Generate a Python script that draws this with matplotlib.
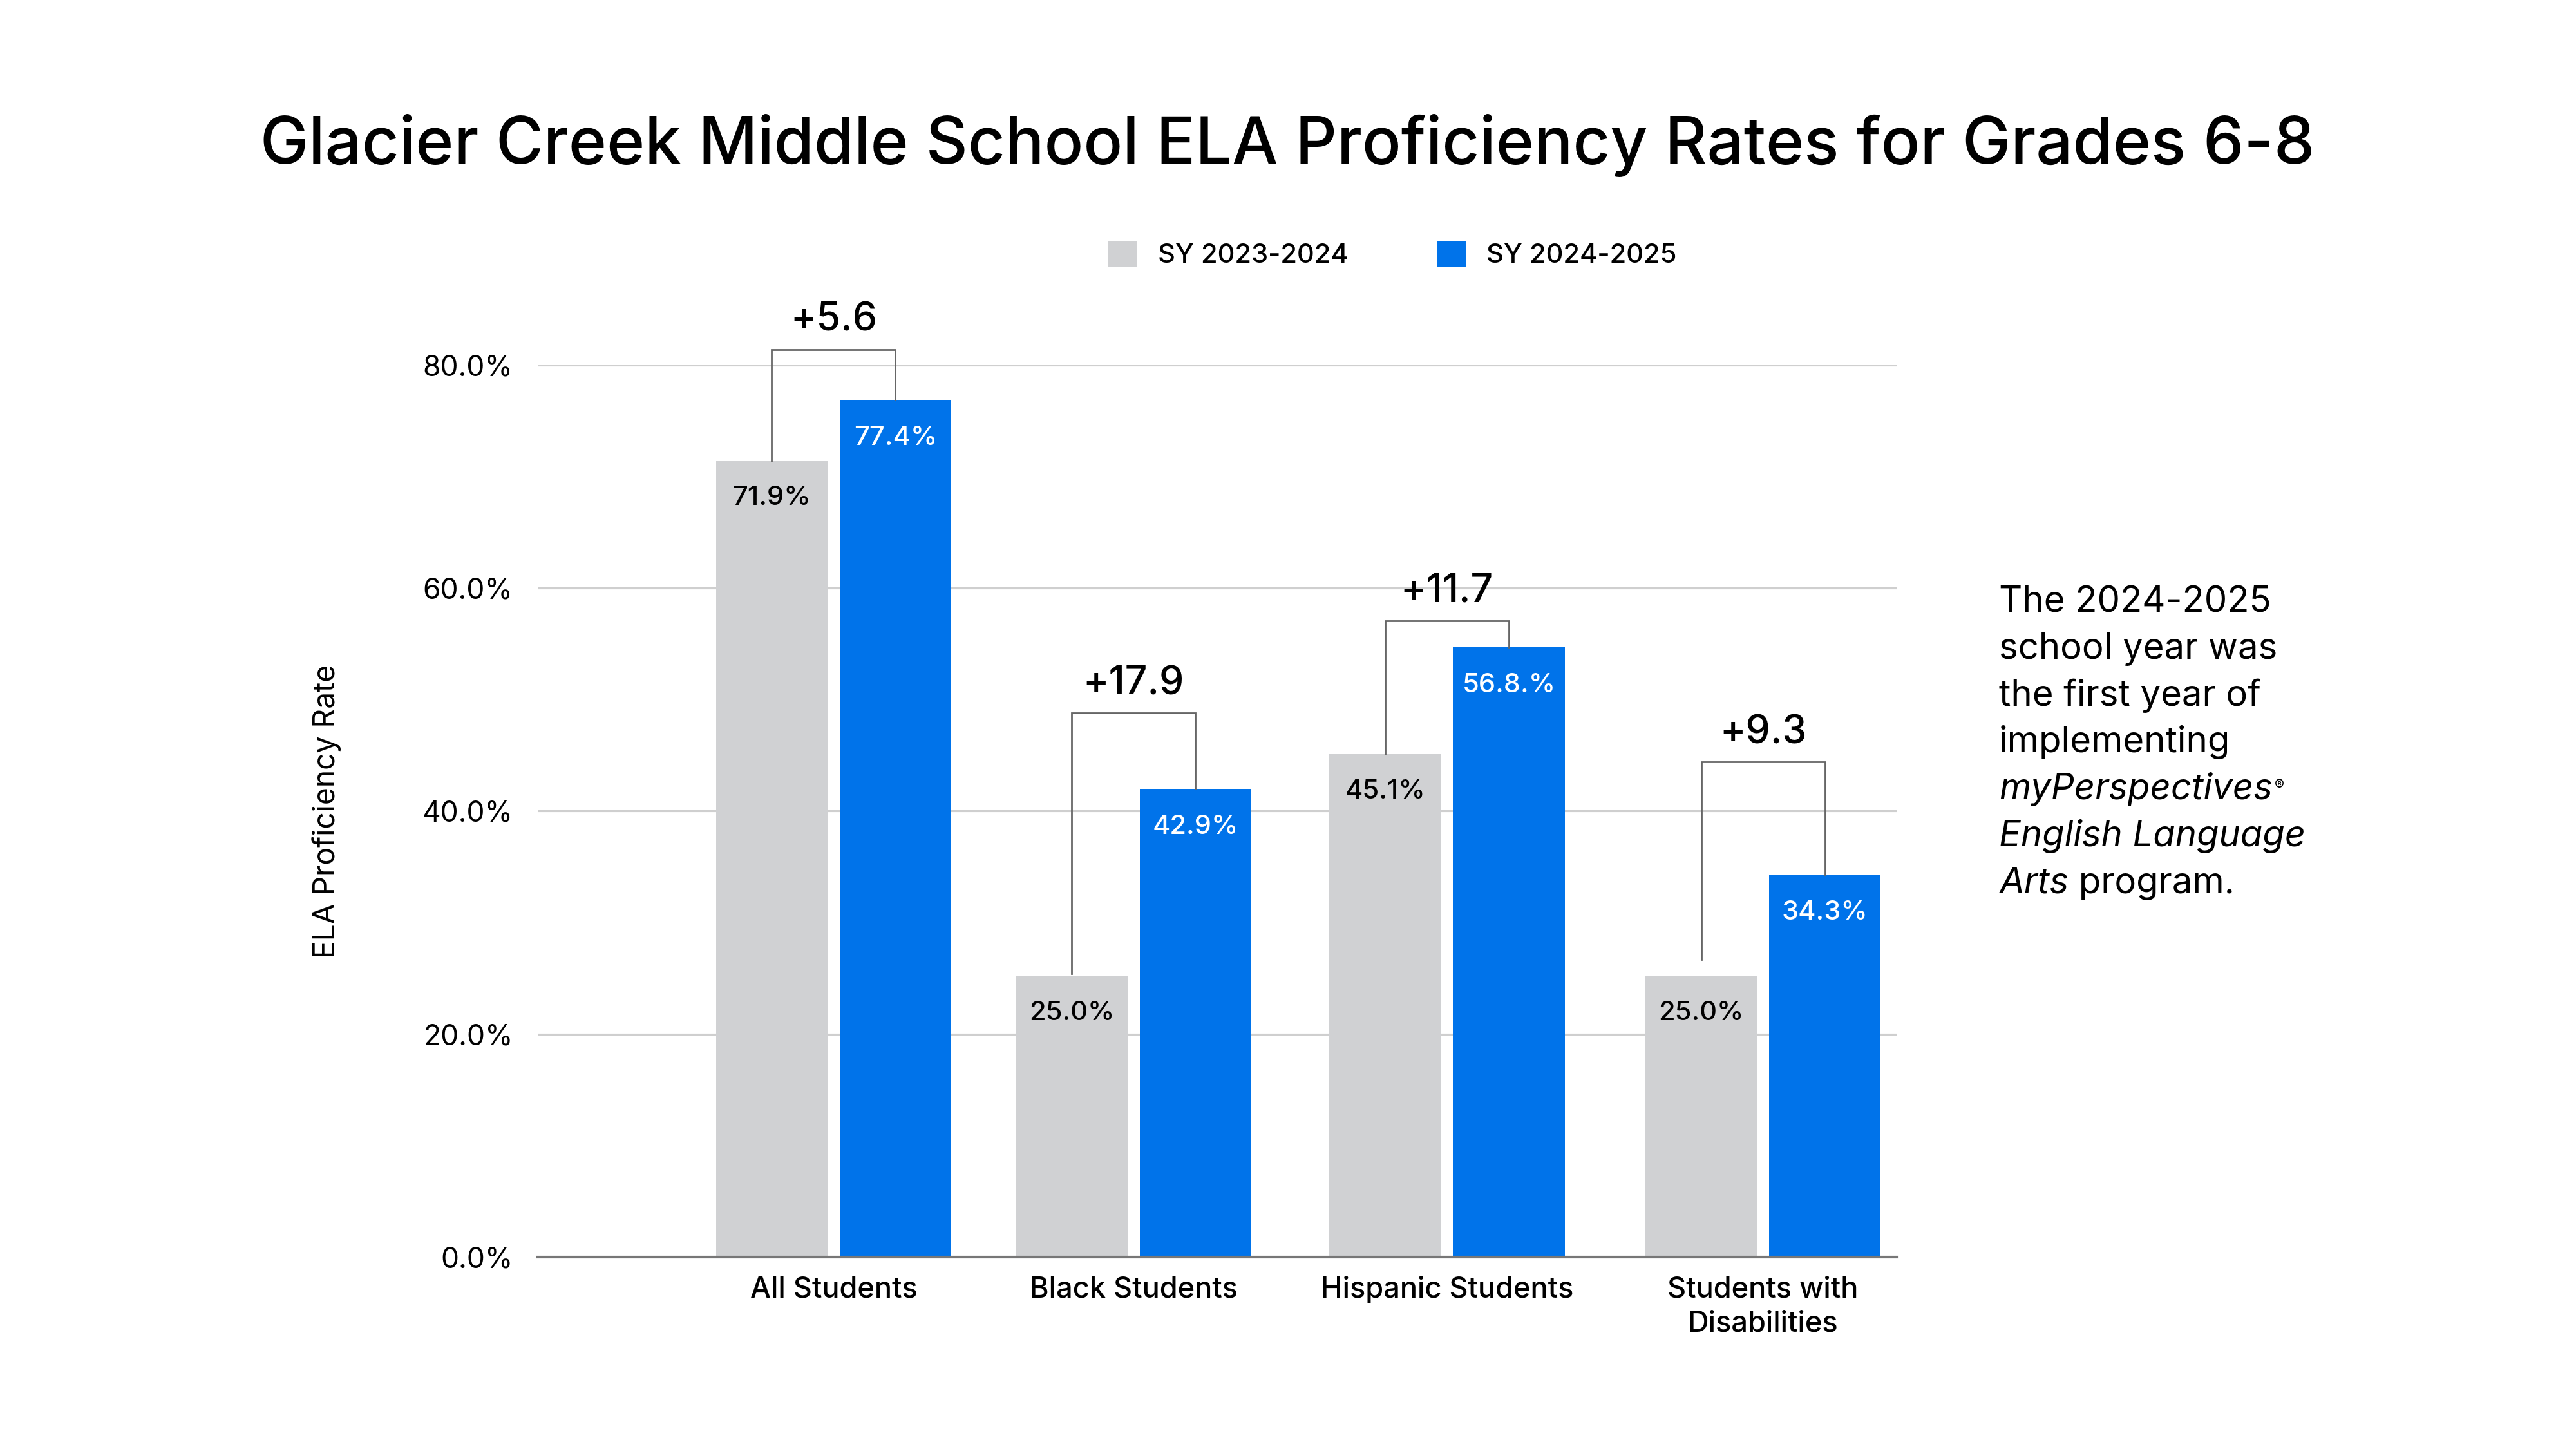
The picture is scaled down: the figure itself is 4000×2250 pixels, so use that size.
import matplotlib
matplotlib.use("Agg")
import matplotlib.pyplot as plt
from matplotlib.patches import Patch

plt.rcParams['font.family'] = ["Inter", "DejaVu Sans"]

# ---------------- data ----------------
title = "Glacier Creek Middle School ELA Proficiency Rates for Grades 6-8"
categories = ["All Students", "Black Students", "Hispanic Students", "Students with\nDisabilities"]
series_names = ["SY 2023-2024", "SY 2024-2025"]
rate_2023_24 = [71.4, 25.2, 45.1, 25.2]          # bar heights as drawn
rate_2024_25 = [76.9, 42.0, 54.7, 34.3]
labels_2023_24 = ["71.9%", "25.0%", "45.1%", "25.0%"]
labels_2024_25 = ["77.4%", "42.9%", "56.8.%", "34.3%"]
gain_labels = ["+5.6", "+17.9", "+11.7", "+9.3"]
bracket_tops = [81.4, 48.8, 57.1, 44.4]
bracket_left_ends = [71.4, 25.4, 45.1, 26.7]
y_ticks = [0, 20, 40, 60, 80]
y_tick_labels = ["0.0%", "20.0%", "40.0%", "60.0%", "80.0%"]
y_label = "ELA Proficiency Rate"
note_lines = ["The 2024-2025", "school year was", "the first year of", "implementing",
              "myPerspectives", "English Language", "Arts", " program."]

# ---------------- style ----------------
GRAY = "#D0D1D3"
BLUE = "#0073EA"
group_pos = [0.0, 0.968, 1.980, 3.0]
bar_w = 0.36
off = 0.1996

fig = plt.figure(figsize=(16, 9), dpi=250)
fig.patch.set_facecolor("white")
ax = fig.add_axes([0.20875, 0.13258, 0.5275, 0.61529])
ax.set_xlim(-0.955, 3.431)
ax.set_ylim(0, 80)

xg = [p - off for p in group_pos]
xb = [p + off for p in group_pos]
ax.bar(xg, rate_2023_24, width=bar_w, color=GRAY, zorder=2, label=series_names[0])
ax.bar(xb, rate_2024_25, width=bar_w, color=BLUE, zorder=2, label=series_names[1])

for s in ["top", "right", "left"]:
    ax.spines[s].set_visible(False)
ax.spines["bottom"].set_color("#777777")
ax.spines["bottom"].set_linewidth(1.2)
ax.spines["bottom"].set_zorder(3)

ax.set_yticks(y_ticks)
ax.set_yticklabels(y_tick_labels)
ax.yaxis.grid(True, color="#cfcfcf", linewidth=0.9)
ax.set_axisbelow(True)
ax.tick_params(axis="y", length=0, pad=11, labelsize=12.8)
ax.set_xticks(group_pos)
ax.set_xticklabels(categories, fontsize=13, fontweight="medium", linespacing=1.35)
ax.tick_params(axis="x", length=0, pad=8.5)

# value labels
for x, h, lab in zip(xg, rate_2023_24, labels_2023_24):
    ax.annotate(lab, (x, h), xytext=(0, -16.5), textcoords="offset points",
                ha="center", va="center", fontsize=12, fontweight="medium", color="black", zorder=4)
for x, h, lab in zip(xb, rate_2024_25, labels_2024_25):
    ax.annotate(lab, (x, h), xytext=(0, -17), textcoords="offset points",
                ha="center", va="center", fontsize=12, fontweight="medium", color="white", zorder=4)

# brackets with gains
for x1, x2, yl, yr, top, g in zip(xg, xb, bracket_left_ends, rate_2024_25, bracket_tops, gain_labels):
    ax.plot([x1, x1, x2, x2], [yl, top, top, yr], color="#666666", lw=0.8,
            clip_on=False, zorder=3, solid_joinstyle="miter")
    ax.annotate(g, ((x1 + x2) / 2, top), xytext=(0, 13), textcoords="offset points",
                ha="center", va="center", fontsize=17.5, fontweight="medium",
                color="black", annotation_clip=False)

# title
fig.text(0.4997, 1 - 254 / 2250, title, ha="center", va="baseline",
         fontsize=29, fontweight="medium", color="black")

# legend
handles = [Patch(facecolor=GRAY, edgecolor="none"), Patch(facecolor=BLUE, edgecolor="none")]
fig.legend(handles, series_names, loc="center", bbox_to_anchor=(0.5405, 0.8245), ncol=2,
           frameon=False, prop={"size": 12.0, "weight": "medium"}, handlelength=1.09,
           handleheight=1.09, handletextpad=0.75, columnspacing=3.3)

# y label
fig.text(520 / 4000, 1 - 1260 / 2250, y_label, rotation=90, rotation_mode="anchor",
         ha="center", va="baseline", fontsize=13.3, color="black")

# side note
nx = 3104 / 4000
base0 = 950
step = 72.8
fs_note = 16.2
styles = ["normal", "normal", "normal", "normal", "italic", "italic"]
for i, (line, st) in enumerate(zip(note_lines[:6], styles)):
    t = fig.text(nx, 1 - (base0 + step * i) / 2250, line, ha="left", va="baseline",
                 fontsize=fs_note, fontstyle=st, color="black")
    if i == 4:
        ax.annotate("®", xy=(1, 1), xycoords=t, xytext=(1, -3), textcoords="offset points",
                    ha="left", va="top", fontsize=6.5, color="black", annotation_clip=False)
t_arts = fig.text(nx, 1 - (base0 + step * 6) / 2250, note_lines[6], ha="left", va="baseline",
                  fontsize=fs_note, fontstyle="italic", color="black")
ax.annotate(note_lines[7], xy=(1, 0), xycoords=t_arts, ha="left", va="bottom",
            fontsize=fs_note, color="black", annotation_clip=False)

fig.savefig("out.png", dpi=250, facecolor="white")
